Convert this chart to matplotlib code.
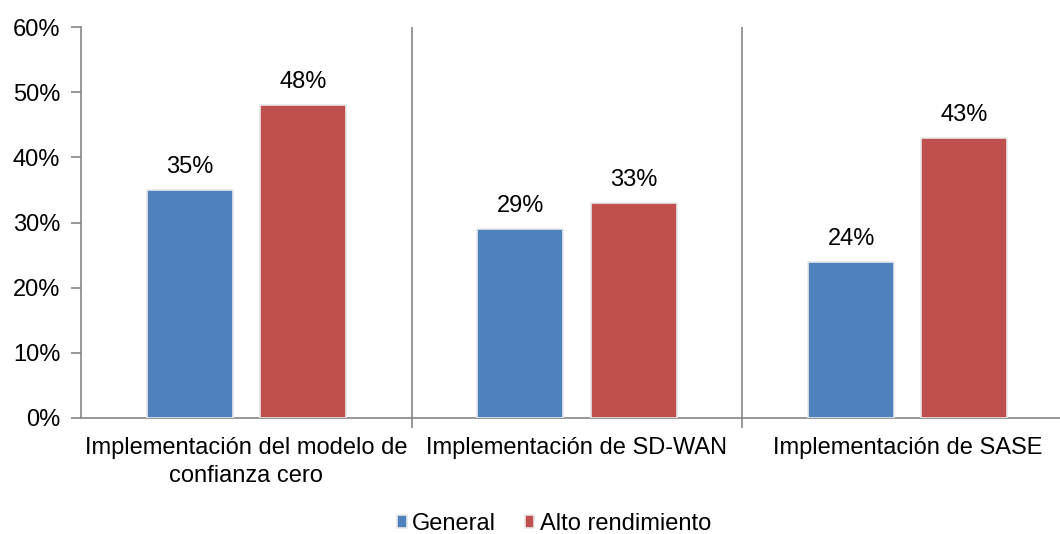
import numpy as np
import matplotlib.pyplot as plt

plt.rcParams["font.family"] = ["Liberation Sans", "DejaVu Sans"]

categories = ["Implementación del modelo de\nconfianza cero",
              "Implementación de SD-WAN",
              "Implementación de SASE"]
general = [35, 29, 24]
alto = [48, 33, 43]
series_names = ["General", "Alto rendimiento"]
colors = ["#4F81BD", "#C0504D"]

fig = plt.figure(figsize=(10.6, 5.34), dpi=100)
ax = fig.add_axes([81 / 1060, 1 - 418 / 534, (1073 - 81) / 1060, (418 - 27) / 534])

x = np.arange(len(categories))
w = 0.26
off = 0.171
for vals, dx, c, name in [(general, -off, colors[0], series_names[0]),
                          (alto, off, colors[1], series_names[1])]:
    bars = ax.bar(x + dx, vals, w, color=c, label=name,
                  edgecolor="#E8E8E8", linewidth=1.2, zorder=3)
    for b, v in zip(bars, vals):
        ax.text(b.get_x() + b.get_width() / 2, v + 1.8, f"{v}%",
                ha="center", va="bottom", fontsize=17)

ax.set_xlim(-0.5, len(categories) - 0.5)
ax.set_ylim(0, 60)
ax.set_yticks(range(0, 61, 10))
ax.set_yticklabels([f"{t}%" for t in range(0, 61, 10)], fontsize=17)

# category separators
for b in [0.5, 1.5]:
    ax.axvline(b, color="#868686", lw=1.2, zorder=1)
ax.set_xticks([0.5, 1.5], minor=True)
ax.tick_params(axis="x", which="minor", length=7, color="#868686", width=1.2)
ax.set_xticks(x)
ax.set_xticklabels(categories, fontsize=17, linespacing=1.3)
ax.tick_params(axis="x", which="major", length=0, pad=14)
ax.tick_params(axis="y", length=7, color="#868686", width=1.2, pad=8)

for s in ["top", "right"]:
    ax.spines[s].set_visible(False)
for s in ["left", "bottom"]:
    ax.spines[s].set_color("#868686")
    ax.spines[s].set_linewidth(1.2)

fig.legend(loc="center", bbox_to_anchor=(554 / 1060, 1 - 524 / 534), ncol=2,
           frameon=False, fontsize=17, handlelength=0.42, handleheight=0.42,
           handletextpad=0.22, columnspacing=1.2)

fig.savefig("out.png", dpi=100)
